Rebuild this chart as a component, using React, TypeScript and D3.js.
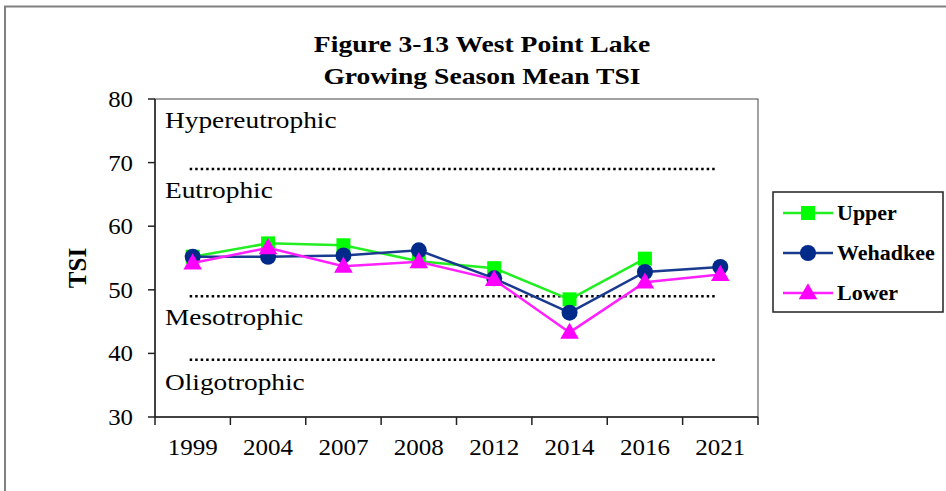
import * as d3 from "d3";

const years = ["1999", "2004", "2007", "2008", "2012", "2014", "2016", "2021"];
const upper: (number | null)[] = [55.2, 57.3, 57.0, 54.5, 53.4, 48.5, 54.9, null];
const wehadkee: (number | null)[] = [55.2, 55.2, 55.4, 56.2, 51.8, 46.4, 52.8, 53.6];
const lower: (number | null)[] = [54.2, 56.6, 53.7, 54.4, 51.6, 43.3, 51.2, 52.4];
const yTicks = [30, 40, 50, 60, 70, 80];
const zones = [
  { name: "Hypereutrophic", at: 76.7 },
  { name: "Eutrophic", at: 65.7 },
  { name: "Mesotrophic", at: 45.7 },
  { name: "Oligotrophic", at: 35.5 },
];
const bounds = [69, 49, 39];

const series = [
  { name: "Upper", values: upper, color: "#22ee22", fill: "#00ff00", shape: "square" },
  { name: "Wehadkee", values: wehadkee, color: "#1a3a8f", fill: "#002a8a", shape: "circle" },
  { name: "Lower", values: lower, color: "#ff22ff", fill: "#ff00ff", shape: "triangle" },
];

const W = 946;
const H = 491;
const plot = { left: 155, right: 758, top: 99, bottom: 417 };
const serif = "'Times New Roman', Times, 'Liberation Serif', 'DejaVu Serif', serif";

// the source image is a little stretched sideways, so text gets a scaleX
const SText = ({ x, y, sx = 1.12, children, ...rest }: any) => (
  <text transform={`translate(${x},${y}) scale(${sx},1)`} {...rest}>
    {children}
  </text>
);

const Marker = ({ shape, x, y, fill }: any) => {
  if (shape === "square") {
    return <rect x={x - 7} y={y - 7} width={14} height={14} fill={fill} />;
  }
  if (shape === "circle") {
    return <circle cx={x} cy={y} r={8} fill={fill} />;
  }
  const sym = d3.symbol().type(d3.symbolTriangle).size(150)();
  return <path d={sym || ""} transform={`translate(${x},${y + 1})`} fill={fill} />;
};

export default function App() {
  const x = d3.scaleBand().domain(years).range([plot.left, plot.right]);
  const y = d3.scaleLinear().domain([30, 80]).range([plot.bottom, plot.top]);
  const cx = (yr: string) => (x(yr) || 0) + x.bandwidth() / 2;
  const first = cx(years[0]);
  const last = cx(years[years.length - 1]);

  const line = d3
    .line<number | null>()
    .defined((d) => d !== null)
    .x((_, i) => cx(years[i]))
    .y((d) => y(d as number));

  const legendRows = [213, 253, 293];

  return (
    <svg
      width={W}
      height={H}
      style={{ position: "absolute", left: 0, top: 0, background: "#fff" }}
    >
      <g style={{ fontFamily: serif }}>
        {/* outer frame */}
        <path d={`M5,${H} L5,6.5 L${W},6.5`} fill="none" stroke="#808080" strokeWidth={2} />

        {/* title */}
        <SText x={482} y={52} sx={1.15} textAnchor="middle" fontSize={24} fontWeight="bold">
          Figure 3-13 West Point Lake
        </SText>
        <SText x={482} y={84} sx={1.15} textAnchor="middle" fontSize={24} fontWeight="bold">
          Growing Season Mean TSI
        </SText>

        {/* plot area border */}
        <rect
          x={plot.left}
          y={plot.top}
          width={plot.right - plot.left}
          height={plot.bottom - plot.top}
          fill="none"
          stroke="#444"
          strokeWidth={1}
        />
        <line x1={plot.left} x2={plot.left} y1={plot.top} y2={plot.bottom} stroke="#222" strokeWidth={1.5} />
        <line x1={plot.left} x2={plot.right} y1={plot.bottom} y2={plot.bottom} stroke="#222" strokeWidth={1.5} />

        {/* y axis ticks */}
        {yTicks.map((t) => (
          <g key={t}>
            <line x1={plot.left - 7} x2={plot.left} y1={y(t)} y2={y(t)} stroke="#222" strokeWidth={1.5} />
            <SText x={133} y={y(t) + 8} sx={1.08} textAnchor="end" fontSize={23}>
              {t}
            </SText>
          </g>
        ))}
        <text
          transform={`translate(86,268) rotate(-90)`}
          textAnchor="middle"
          fontSize={25}
          fontWeight="bold"
        >
          TSI
        </text>

        {/* x axis ticks */}
        {[...years.map((yr) => x(yr) || 0), plot.right].map((v, i) => (
          <line key={i} x1={v} x2={v} y1={plot.bottom} y2={plot.bottom + 8} stroke="#222" strokeWidth={1.5} />
        ))}
        {years.map((yr) => (
          <SText key={yr} x={cx(yr)} y={455} sx={1.09} textAnchor="middle" fontSize={23}>
            {yr}
          </SText>
        ))}

        {/* trophic boundaries */}
        {bounds.map((b) => (
          <line
            key={b}
            x1={first - 3}
            x2={last - 3}
            y1={y(b)}
            y2={y(b)}
            stroke="#000"
            strokeWidth={2.5}
            strokeDasharray="2.5 3"
          />
        ))}
        {zones.map((z) => (
          <SText key={z.name} x={165} y={y(z.at) + 8} sx={1.14} fontSize={24}>
            {z.name}
          </SText>
        ))}

        {/* series */}
        {series.map((s) => (
          <g key={s.name}>
            <path d={line(s.values) || ""} fill="none" stroke={s.color} strokeWidth={2.5} />
            {s.values.map((v, i) =>
              v === null ? null : <Marker key={i} shape={s.shape} x={cx(years[i])} y={y(v)} fill={s.fill} />
            )}
          </g>
        ))}

        {/* legend */}
        <rect x={773} y={192} width={170} height={120} fill="#fff" stroke="#222" strokeWidth={1.5} />
        {series.map((s, i) => (
          <g key={s.name}>
            <line x1={783} x2={833} y1={legendRows[i]} y2={legendRows[i]} stroke={s.color} strokeWidth={2.5} />
            <Marker shape={s.shape} x={808} y={legendRows[i]} fill={s.fill} />
            <SText x={837} y={legendRows[i] + 7} sx={1.1} fontSize={20} fontWeight="bold">
              {s.name}
            </SText>
          </g>
        ))}
      </g>
    </svg>
  );
}
